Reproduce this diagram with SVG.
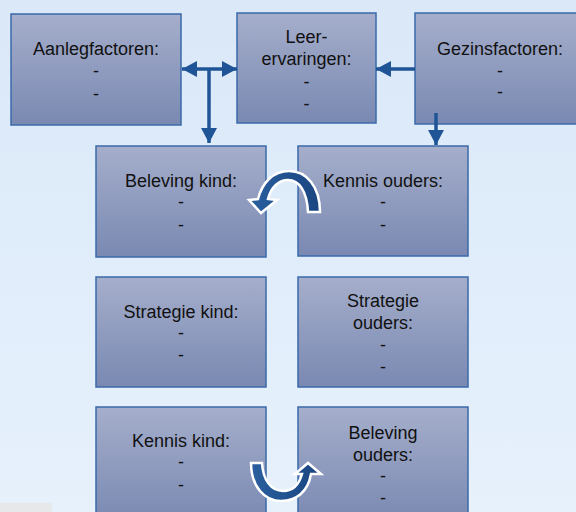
<svg xmlns="http://www.w3.org/2000/svg" width="576" height="512" viewBox="0 0 576 512">
  <defs>
    <linearGradient id="bg" x1="0" y1="0" x2="0" y2="1">
      <stop offset="0" stop-color="#dae8f8"/>
      <stop offset="1" stop-color="#e6f1fc"/>
    </linearGradient>
    <linearGradient id="box" x1="0" y1="0" x2="0" y2="1">
      <stop offset="0" stop-color="#a5aecb"/>
      <stop offset="1" stop-color="#7a89b2"/>
    </linearGradient>
    <linearGradient id="carrow" x1="0" y1="0" x2="1" y2="0">
      <stop offset="0" stop-color="#2a5f9f"/>
      <stop offset="1" stop-color="#1a4580"/>
    </linearGradient>
    <marker id="ah" markerUnits="userSpaceOnUse" markerWidth="16" markerHeight="16" refX="15" refY="8" orient="auto-start-reverse">
      <path d="M0,0 L15,8 L0,16 Z" fill="#1f5596"/>
    </marker>
    <style>
      .node rect { fill: url(#box); stroke: #3b6aa9; stroke-width: 1.5; }
      .node text { font-family: "Liberation Sans", Arial, sans-serif; font-size: 18px; fill: #111; text-anchor: middle; }
      .conn line { stroke: #1f5596; stroke-width: 3.5; fill: none; }
      .curve { fill: url(#carrow); stroke: #ffffff; stroke-width: 2.5; stroke-linejoin: miter; }
    </style>
  </defs>

  <rect x="0" y="0" width="576" height="512" fill="url(#bg)"/>
  <rect x="0" y="503" width="52" height="9" fill="#e6e8ea"/>

  <g id="aanlegfactoren" class="node">
    <rect x="11" y="14" width="170" height="111"/>
    <text x="96" y="55">Aanlegfactoren:</text>
    <text x="96" y="77">-</text>
    <text x="96" y="100">-</text>
  </g>

  <g id="leerervaringen" class="node">
    <rect x="237" y="13" width="139" height="110"/>
    <text x="306.5" y="42.5">Leer-</text>
    <text x="306.5" y="65">ervaringen:</text>
    <text x="306.5" y="87.5">-</text>
    <text x="306.5" y="110">-</text>
  </g>

  <g id="gezinsfactoren" class="node">
    <rect x="415" y="13" width="170" height="111"/>
    <text x="500" y="55">Gezinsfactoren:</text>
    <text x="500" y="76.5">-</text>
    <text x="500" y="98">-</text>
  </g>

  <g id="beleving-kind" class="node">
    <rect x="96" y="146" width="170" height="111"/>
    <text x="181" y="186.5">Beleving kind:</text>
    <text x="181" y="208">-</text>
    <text x="181" y="230.5">-</text>
  </g>

  <g id="kennis-ouders" class="node">
    <rect x="298" y="146" width="170" height="110"/>
    <text x="383" y="186.5">Kennis ouders:</text>
    <text x="383" y="208">-</text>
    <text x="383" y="230.5">-</text>
  </g>

  <g id="strategie-kind" class="node">
    <rect x="96" y="277" width="170" height="110"/>
    <text x="181" y="318">Strategie kind:</text>
    <text x="181" y="339">-</text>
    <text x="181" y="361">-</text>
  </g>

  <g id="strategie-ouders" class="node">
    <rect x="298" y="277" width="170" height="110"/>
    <text x="383" y="306.5">Strategie</text>
    <text x="383" y="328.5">ouders:</text>
    <text x="383" y="351">-</text>
    <text x="383" y="373">-</text>
  </g>

  <g id="kennis-kind" class="node">
    <rect x="96" y="407" width="170" height="115"/>
    <text x="181" y="446.5">Kennis kind:</text>
    <text x="181" y="468">-</text>
    <text x="181" y="491">-</text>
  </g>

  <g id="beleving-ouders" class="node">
    <rect x="298" y="407" width="170" height="115"/>
    <text x="383" y="439">Beleving</text>
    <text x="383" y="460.5">ouders:</text>
    <text x="383" y="482">-</text>
    <text x="383" y="504">-</text>
  </g>

  <g id="connectors" class="conn">
    <line x1="182" y1="69" x2="237" y2="69" marker-start="url(#ah)" marker-end="url(#ah)"/>
    <line x1="209" y1="69" x2="209" y2="143" marker-end="url(#ah)"/>
    <line x1="415" y1="69" x2="376" y2="69" marker-end="url(#ah)"/>
    <line x1="436" y1="113" x2="436" y2="145" marker-end="url(#ah)"/>
    <path class="curve" d="M320,212 C320,186 306,171 289,171 C273,171 262,183 258,199 L249,200 L261,213 L277,200 L268,199 C271,187 279,180 288,180 C299,180 307,191 308,212 Z"/>
    <path class="curve" d="M251,463 C251,487 265,501 281,501 C296,501 308,492 311,474 L321,474 L308,463 L295,474 L302,474 C299,485 292,491 283,491 C271,491 263,480 262,463 Z"/>
  </g>
</svg>
